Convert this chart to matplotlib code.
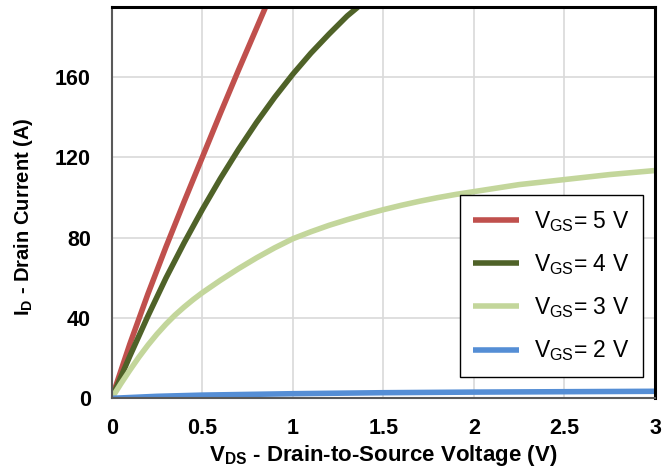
import matplotlib
matplotlib.use('Agg')
import matplotlib.pyplot as plt
import numpy as np

plt.rcParams['font.family'] = ['Liberation Sans', 'DejaVu Sans']
plt.rcParams['mathtext.fontset'] = 'custom'
plt.rcParams['mathtext.rm'] = 'Liberation Sans'
plt.rcParams['mathtext.bf'] = 'Liberation Sans:bold'

vds_5 = [0, 0.1, 0.2, 0.3, 0.4, 0.5, 0.6, 0.7, 0.8, 0.85]
id_5 = [0, 27, 52, 75.5, 98, 120, 142, 163.5, 184.5, 195]

vds_4 = [0, 0.1, 0.2, 0.3, 0.4, 0.5, 0.6, 0.7, 0.8, 0.9, 1.0, 1.1, 1.2, 1.3, 1.36]
id_4 = [0, 21, 41, 60, 77.5, 94, 109.5, 124, 137.5, 150, 161.5, 172, 181.5, 190.5, 195]

vds_3 = [0, 0.05, 0.1, 0.15, 0.2, 0.25, 0.3, 0.35, 0.4, 0.45, 0.5, 0.6, 0.7, 0.8, 0.9, 1.0,
         1.1, 1.2, 1.3, 1.4, 1.5, 1.6, 1.7, 1.8, 1.9, 2.0, 2.25, 2.5, 2.75, 3.0]
id_3 = [0, 7.2, 14, 20.5, 26.5, 32, 37, 41.5, 45.5, 49.2, 52.6, 58.8, 64.6, 70, 75, 79.5,
        83, 86.2, 89, 91.6, 94, 96.2, 98.2, 100, 101.6, 103, 106.5, 109, 111.5, 113.5]

vds_2 = [0, 0.25, 0.5, 1.0, 1.5, 2.0, 2.5, 3.0]
id_2 = [0, 1.0, 1.6, 2.3, 2.8, 3.1, 3.3, 3.5]

labels = [r'$\mathrm{V_{GS}}$= 5 V', r'$\mathrm{V_{GS}}$= 4 V',
          r'$\mathrm{V_{GS}}$= 3 V', r'$\mathrm{V_{GS}}$= 2 V']
colors = ['#C0504D', '#4F6228', '#C3D69B', '#558ED5']

fig = plt.figure(figsize=(6.66, 4.72), dpi=100)
ax = fig.add_axes([0.1677, 0.1561, 0.8158, 0.8291])

series = [(vds_5, id_5), (vds_4, id_4), (vds_3, id_3), (vds_2, id_2)]
for (x, y), lab, c in zip(series, labels, colors):
    ax.plot(x, y, color=c, lw=4, label=lab, solid_capstyle='butt', solid_joinstyle='round')

ax.set_xlim(0, 3)
ax.set_ylim(0, 195)
ax.set_xticks(np.arange(0, 3.01, 0.5))
ax.set_xticklabels(['0', '0.5', '1', '1.5', '2', '2.5', '3'])
ax.set_yticks([0, 40, 80, 120, 160])
ax.tick_params(length=0, labelsize=15.5)
ax.tick_params(axis='x', pad=14)
ax.tick_params(axis='y', pad=15)
for t in ax.get_xticklabels() + ax.get_yticklabels():
    t.set_fontweight('bold')
ax.grid(True, color='#D9D9D9', lw=1.2)
ax.set_axisbelow(True)

for s in ['top', 'right']:
    ax.spines[s].set_color('black')
    ax.spines[s].set_linewidth(2.2)
for s in ['left', 'bottom']:
    ax.spines[s].set_color('#595959')
    ax.spines[s].set_linewidth(1.5)

ax.set_xlabel(r'$\mathbf{V_{DS}}$ - Drain-to-Source Voltage (V)', fontsize=16, fontweight='bold', labelpad=3)
ax.set_ylabel(r'$\mathbf{I_{D}}$ - Drain Current (A)', fontsize=14.5, fontweight='bold')
ax.yaxis.set_label_coords(-0.141, 0.463)

leg = ax.legend(loc='lower right', bbox_to_anchor=(0.978, 0.054), borderaxespad=0,
                fontsize=16.5, handlelength=2.0, handletextpad=0.65, labelspacing=0.8,
                fancybox=False, edgecolor='black', framealpha=1, borderpad=0.6)
leg.get_frame().set_linewidth(1.0)

fig.savefig('out.png', dpi=100)
